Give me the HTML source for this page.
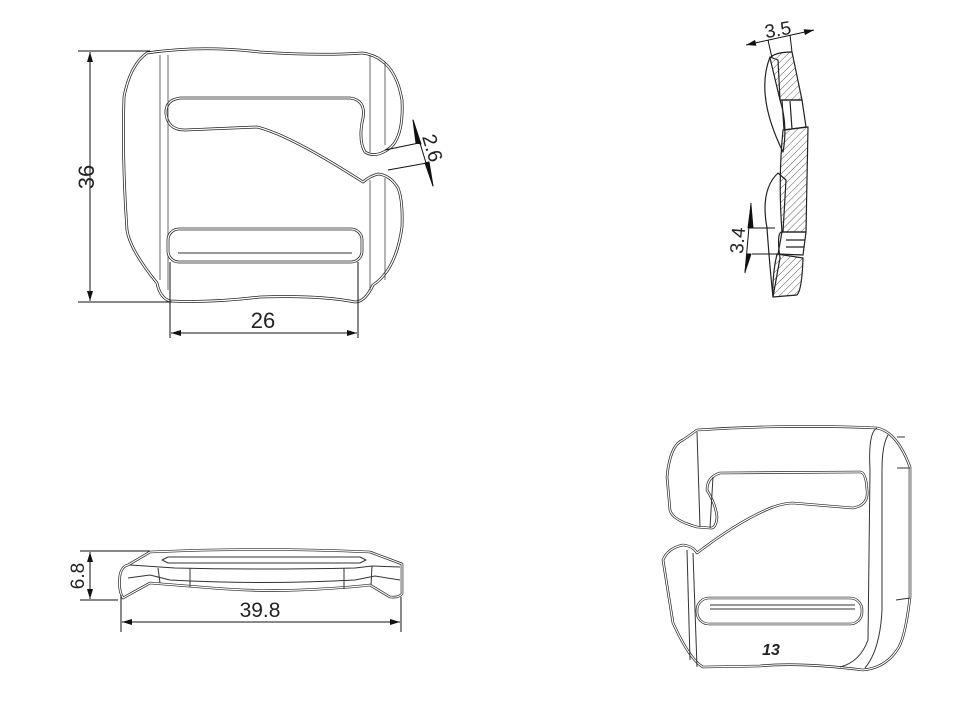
<!DOCTYPE html>
<html><head><meta charset="utf-8"><style>
html,body{margin:0;padding:0;background:#fff;}
svg{display:block;}
text{font-family:"Liberation Sans",sans-serif;fill:#222;}
</style></head><body>
<svg width="960" height="720" viewBox="0 0 960 720" xmlns="http://www.w3.org/2000/svg">
<defs>
<pattern id="h" width="5" height="5" patternUnits="userSpaceOnUse" patternTransform="rotate(45)">
<line x1="0" y1="0" x2="0" y2="5" stroke="#333" stroke-width="0.8"/></pattern>
<marker id="a" viewBox="0 0 10 10" refX="10" refY="5" markerWidth="10" markerHeight="10" orient="auto-start-reverse" markerUnits="userSpaceOnUse"><path d="M0,2 L10,5 L0,8 z" fill="#111"/></marker>
<path id="o1" d="M147,53 Q200,45 260,52 Q320,56 363,53 Q395,58 402,100 Q404,140 387,150 Q375,158 365,152 Q358,140 363,118 Q366,100 350,98 L180,98 Q165,100 166,114 Q168,130 185,130 L257,127 Q290,135 363,182 Q370,176 378,174 Q390,175 398,188 Q403,200 402,227 Q396,270 373,285 Q365,302 355,302 Q320,295 260,297 Q210,303 170,301 Q160,298 157,283 Q130,250 127,230 Q122,160 124,97 Q130,65 147,53 Z"/>
<rect id="s1" x="168" y="229" width="194" height="33" rx="11"/>
<path id="o3" d="M150,552 Q260,547 370,552 L402,564 L402,594 Q398,598 390,597 L370,585 Q345,588 300,590 Q257,592 200,587 L150,583 L123,598 Q118,590 120,575 Q122,566 128,565 Z"/>
<path id="o4" d="M697,430 Q790,424 877,428 Q897,432 910,467 L910,597 Q905,640 897,650 Q885,668 863,670 Q800,662 760,666 L703,667 Q690,660 673,623 L663,560 Q668,548 683,545 Q693,546 697,553 Q740,520 773,507 Q785,503 793,503 L853,508 Q869,505 867,490 Q866,472 860,472 L720,473 Q707,477 707,490 Q716,505 717,517 Q716,529 710,528 L697,527 Q672,520 670,510 L667,477 Q670,445 683,440 Z"/>
<rect id="s4" x="697" y="598" width="165" height="26" rx="12"/>
</defs>
<g fill="none" stroke-linejoin="round">
<!-- Top-left view -->
<use href="#o1" stroke="#222" stroke-width="2.8"/>
<use href="#o1" stroke="#fff" stroke-width="1.3"/>
<line x1="160" y1="55" x2="160" y2="280" stroke="#444" stroke-width="0.8"/>
<line x1="168" y1="55" x2="168" y2="290" stroke="#444" stroke-width="0.8"/>
<line x1="370" y1="56" x2="370" y2="152" stroke="#444" stroke-width="0.8"/>
<line x1="385" y1="62" x2="385" y2="145" stroke="#444" stroke-width="0.8"/>
<line x1="370" y1="180" x2="370" y2="290" stroke="#444" stroke-width="0.8"/>
<line x1="385" y1="178" x2="385" y2="280" stroke="#444" stroke-width="0.8"/>
<use href="#s1" stroke="#222" stroke-width="2.8"/>
<use href="#s1" stroke="#fff" stroke-width="1.3"/>
<line x1="178" y1="253" x2="352" y2="253" stroke="#333"/>
<g stroke="#111" stroke-width="1">
<line x1="78" y1="51" x2="150" y2="51"/>
<line x1="78" y1="302" x2="172" y2="302"/>
<line x1="90" y1="52" x2="90" y2="301" marker-start="url(#a)" marker-end="url(#a)"/>
<line x1="170" y1="262" x2="170" y2="338"/>
<line x1="358" y1="262" x2="358" y2="338"/>
<line x1="171" y1="333" x2="357" y2="333" marker-start="url(#a)" marker-end="url(#a)"/>
<line x1="385" y1="150" x2="419" y2="143"/>
<line x1="388" y1="170" x2="427" y2="163"/>
<line x1="413" y1="120" x2="433" y2="186"/>
<path d="M413,120 L421,144 L416,143 Z" fill="#111"/>
<path d="M433,186 L425,163 L429,162 Z" fill="#111"/>
</g>
<text x="0" y="0" font-size="22" transform="translate(94,177) rotate(-90)" text-anchor="middle">36</text>
<text x="263" y="328" font-size="22" text-anchor="middle">26</text>
<text x="0" y="0" font-size="20" transform="translate(426,150) rotate(73)" text-anchor="middle">2.6</text>

<!-- side section view -->
<g stroke="#222" stroke-width="1.2">
<path d="M770,57 Q755,95 783,152 Q788,125 780,100 L778,60 Z" />
<path d="M778,173 Q760,190 767,228 Q770,270 773,297 L780,258 Q776,230 783,232 L786,180 Z"/>
<path d="M770,58 Q775,52 792,52 L802,100 L780,100 Z" fill="url(#h)"/>
<path d="M782,100 L802,100 L806,127 L784,130 Z"/>
<line x1="790" y1="101" x2="792" y2="129"/>
<path d="M783,130 L808,127 L806,232 L782,232 Q778,180 783,130 Z" fill="url(#h)"/>
<path d="M782,232 L806,232 L803,255 L778,254 Z"/>
<line x1="786" y1="240" x2="805" y2="240"/>
<line x1="786" y1="247" x2="804" y2="247"/>
<path d="M777,254 L803,258 Q802,290 797,295 L773,297 Q772,275 777,254 Z" fill="url(#h)"/>
</g>
<g stroke="#111" stroke-width="1">
<line x1="746" y1="45" x2="814" y2="30" marker-start="url(#a)" marker-end="url(#a)"/>
<line x1="768" y1="40" x2="772" y2="58"/>
<line x1="790" y1="35" x2="792" y2="52"/>
<line x1="752" y1="228" x2="775" y2="228"/>
<line x1="752" y1="254" x2="777" y2="254"/>
<line x1="751" y1="203" x2="745" y2="273"/>
<path d="M751,205 L748,228 L753,228 Z" fill="#111"/>
<path d="M745,272 L747,254 L751,254 Z" fill="#111"/>
</g>
<text x="779" y="36" font-size="19" text-anchor="middle" transform="rotate(-10 779 36)">3.5</text>
<text x="0" y="0" font-size="19" text-anchor="middle" transform="translate(744,241) rotate(-85)">3.4</text>

<!-- bottom-left front view -->
<use href="#o3" stroke="#222" stroke-width="2.6"/>
<use href="#o3" stroke="#fff" stroke-width="1.2"/>
<path d="M168,557 L360,557 L366,560 L360,563 L168,563 L162,560 Z" stroke="#333"/>
<path d="M130,565 L160,567 L175,568 Q260,570 355,568 L372,566 L400,567" stroke="#333"/>
<path d="M128,578 L150,575 L170,580 Q260,585 355,580 L375,576 L400,580" stroke="#333"/>
<line x1="158" y1="568" x2="160" y2="583" stroke="#333"/>
<line x1="190" y1="568" x2="190" y2="587" stroke="#333"/>
<line x1="344" y1="568" x2="344" y2="589" stroke="#333"/>
<line x1="372" y1="566" x2="371" y2="585" stroke="#333"/>
<g stroke="#111" stroke-width="1">
<line x1="80" y1="551" x2="150" y2="551"/>
<line x1="80" y1="600" x2="118" y2="600"/>
<line x1="90" y1="552" x2="90" y2="599" marker-start="url(#a)" marker-end="url(#a)"/>
<line x1="121" y1="595" x2="121" y2="632"/>
<line x1="401" y1="597" x2="401" y2="632"/>
<line x1="122" y1="622" x2="400" y2="622" marker-start="url(#a)" marker-end="url(#a)"/>
</g>
<text x="0" y="0" font-size="19" text-anchor="middle" transform="translate(84,576) rotate(-90)">6.8</text>
<text x="260" y="617" font-size="21" text-anchor="middle">39.8</text>

<!-- isometric view -->
<use href="#o4" stroke="#222" stroke-width="2.6"/>
<use href="#o4" stroke="#fff" stroke-width="1.2"/>
<path d="M877,428 Q868,432 870,470 L868,640 Q860,662 840,667" stroke="#333"/>
<path d="M888,435 Q882,445 882,470 L882,610 Q880,650 865,668" stroke="#333"/>
<line x1="697" y1="432" x2="700" y2="527" stroke="#333"/>
<line x1="693" y1="553" x2="697" y2="667" stroke="#333"/>
<line x1="687" y1="550" x2="690" y2="660" stroke="#333"/>
<line x1="713" y1="477" x2="710" y2="528" stroke="#333"/>
<use href="#s4" stroke="#222" stroke-width="2.6"/>
<use href="#s4" stroke="#fff" stroke-width="1.2"/>
<line x1="710" y1="605" x2="855" y2="605" stroke="#333"/>
<line x1="710" y1="609" x2="855" y2="609" stroke="#333"/>
<line x1="897" y1="437" x2="905" y2="437" stroke="#333"/>
<line x1="897" y1="468" x2="910" y2="468" stroke="#333"/>
<line x1="896" y1="600" x2="910" y2="598" stroke="#333"/>
</g>
<text x="771" y="655" font-size="16" font-style="italic" font-weight="bold" text-anchor="middle">13</text>
</svg>
</body></html>
